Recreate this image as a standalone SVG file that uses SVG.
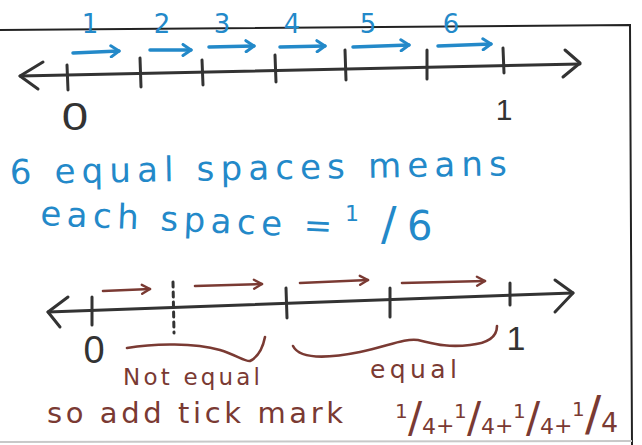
<svg xmlns="http://www.w3.org/2000/svg" width="642" height="445" viewBox="0 0 642 445">
<defs>
<style>
.ln{fill:none;stroke:#333;stroke-width:3;stroke-linecap:round;stroke-linejoin:round}
.bl{fill:none;stroke:#2389c9;stroke-width:3.5;stroke-linecap:round}
.br{fill:none;stroke:#7a3a33;stroke-width:2.6;stroke-linecap:round}
.tb{fill:#2389c9;font-family:"DejaVu Sans","Liberation Sans",sans-serif}
.tr{fill:#7a3a33;font-family:"DejaVu Sans","Liberation Sans",sans-serif}
.tk{fill:#333;font-family:"Liberation Sans",Arial,sans-serif}
</style>
<marker id="ab" viewBox="0 0 12 14" refX="10" refY="7" markerWidth="12" markerHeight="14" markerUnits="userSpaceOnUse" orient="auto">
<path d="M2,1.5 L10,7 L2,12.5" fill="none" stroke="#2389c9" stroke-width="3" stroke-linecap="round" stroke-linejoin="round"/>
</marker>
<marker id="ar" viewBox="0 0 12 12" refX="10" refY="6" markerWidth="12" markerHeight="12" markerUnits="userSpaceOnUse" orient="auto">
<path d="M2,1.5 L10,6 L2,10.5" fill="none" stroke="#7a3a33" stroke-width="2.4" stroke-linecap="round" stroke-linejoin="round"/>
</marker>
</defs>
<rect width="642" height="445" fill="#fff"/>
<g id="frame" fill="none">
<path d="M0,30 L630,25 L632,445" stroke="#222" stroke-width="2"/>
<path d="M0,442 L632,441" stroke="#c8c8c8" stroke-width="2"/>
</g>
<g id="top-number-line">
<path class="ln" d="M20,76 L580,64"/>
<path class="ln" d="M43,62 L20,76 L38,89"/>
<path class="ln" d="M565,50 L580,63 L563,77"/>
<path class="ln" d="M67,65 L68,90 M140,58 L141,87 M202,60 L203,85 M275,55 L276,82 M345,50 L346,80 M427,50 L427,79 M503,48 L504,73"/>
<text class="tk" x="75" y="130" font-size="38" text-anchor="middle" transform="translate(75,0) scale(1.25,1) translate(-75,0)">0</text>
<text class="tk" x="504" y="120" font-size="30" text-anchor="middle">1</text>
</g>
<g id="top-steps">
<path class="bl" marker-end="url(#ab)" d="M73,53 L119,51"/>
<path class="bl" marker-end="url(#ab)" d="M150,50 L191,50"/>
<path class="bl" marker-end="url(#ab)" d="M209,47 L254,46"/>
<path class="bl" marker-end="url(#ab)" d="M280,47 L325,46"/>
<path class="bl" marker-end="url(#ab)" d="M353,47 L409,45"/>
<path class="bl" marker-end="url(#ab)" d="M438,46 L491,44"/>
<g class="tb" font-size="26" text-anchor="middle">
<text x="90" y="33">1</text>
<text x="162" y="33">2</text>
<text x="222" y="33">3</text>
<text x="292" y="33">4</text>
<text x="368" y="33">5</text>
<text x="451" y="33">6</text>
</g>
</g>
<g id="blue-note">
<text class="tb" x="10" y="184" font-size="34" textLength="497" lengthAdjust="spacing" transform="rotate(-1 10 184)">6 equal spaces means</text>
<text class="tb" x="40" y="225" font-size="34" textLength="292" lengthAdjust="spacing" transform="rotate(2.5 40 225)">each space =</text>
<text class="tb" x="345" y="221" font-size="22">1</text>
<text class="tb" x="381" y="240" font-size="46">/</text>
<text class="tb" x="407" y="240" font-size="40">6</text>
</g>
<g id="bottom-number-line">
<path class="ln" d="M48,312 L573,293"/>
<path class="ln" d="M68,297 L48,312 L60,327"/>
<path class="ln" d="M555,280 L573,293 L555,312"/>
<path class="ln" d="M92,297 L92,325 M286,288 L287,318 M390,288 L390,317 M510,283 L510,305"/>
<path class="ln" d="M173,282 L174,333" stroke-dasharray="5,5"/>
<text class="tk" x="94" y="363" font-size="38" text-anchor="middle">0</text>
<text class="tk" x="516" y="350" font-size="34" text-anchor="middle">1</text>
</g>
<g id="bottom-steps">
<path class="br" marker-end="url(#ar)" d="M103,291 L150,289"/>
<path class="br" marker-end="url(#ar)" d="M195,286 L262,284"/>
<path class="br" marker-end="url(#ar)" d="M300,283 L368,280"/>
<path class="br" marker-end="url(#ar)" d="M402,283 L485,281"/>
</g>
<g id="braces">
<path class="br" d="M127,348 C155,343 195,343 220,350 C236,355 246,362 250,361 C256,358 262,352 265,337"/>
<path class="br" d="M293,346 C300,360 330,358 360,352 C388,346 405,338 418,340 C432,343 445,348 470,345 C490,343 497,336 497,326"/>
</g>
<g id="brown-notes">
<text class="tr" x="123" y="385" font-size="23" textLength="137" lengthAdjust="spacing">Not equal</text>
<text class="tr" x="47" y="423" font-size="29" textLength="296" lengthAdjust="spacing">so add tick mark</text>
<text class="tr" x="370" y="378" font-size="25" textLength="87" lengthAdjust="spacing">equal</text>
<g class="tr">
<text x="395" y="418" font-size="20">1</text><text x="408" y="432" font-size="42">/</text><text x="422" y="434" font-size="22">4</text>
<text x="436" y="433" font-size="22">+</text>
<text x="454" y="418" font-size="20">1</text><text x="467" y="432" font-size="42">/</text><text x="481" y="434" font-size="22">4</text>
<text x="495" y="433" font-size="22">+</text>
<text x="513" y="418" font-size="20">1</text><text x="526" y="432" font-size="42">/</text><text x="540" y="434" font-size="22">4</text>
<text x="554" y="433" font-size="22">+</text>
<text x="572" y="416" font-size="20">1</text><text x="585" y="430" font-size="48">/</text><text x="601" y="432" font-size="27">4</text>
</g>
</g>
</svg>
